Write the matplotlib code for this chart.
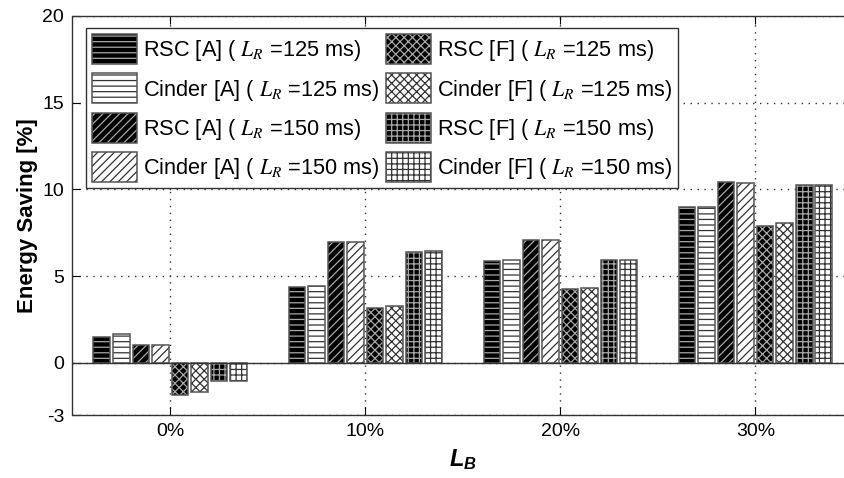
import matplotlib
matplotlib.use("Agg")
import matplotlib.pyplot as plt
import matplotlib.patches as mpatches
from matplotlib.font_manager import FontProperties
import numpy as np

plt.rcParams['font.family'] = ['Liberation Sans', 'DejaVu Sans']
plt.rcParams['mathtext.fontset'] = 'custom'
plt.rcParams['mathtext.it'] = 'Liberation Sans:bold:italic'
plt.rcParams['mathtext.rm'] = 'Liberation Sans:bold'
plt.rcParams['mathtext.bf'] = 'Liberation Sans:bold'
plt.rcParams['hatch.linewidth'] = 0.9
plt.rcParams['axes.unicode_minus'] = False

groups = ['0%', '10%', '20%', '30%']
series_labels = [
    'RSC [A] ( $L_R$ =125 ms)',
    'Cinder [A] ( $L_R$ =125 ms)',
    'RSC [A] ( $L_R$ =150 ms)',
    'Cinder [A] ( $L_R$ =150 ms)',
    'RSC [F] ( $L_R$ =125 ms)',
    'Cinder [F] ( $L_R$ =125 ms)',
    'RSC [F] ( $L_R$ =150 ms)',
    'Cinder [F] ( $L_R$ =150 ms)',
]
rsc_a_125 = [1.5, 4.35, 5.9, 9.0]
cinder_a_125 = [1.65, 4.45, 5.95, 9.0]
rsc_a_150 = [1.05, 6.95, 7.1, 10.42]
cinder_a_150 = [1.05, 6.95, 7.1, 10.4]
rsc_f_125 = [-1.85, 3.19, 4.25, 7.9]
cinder_f_125 = [-1.7, 3.3, 4.33, 8.08]
rsc_f_150 = [-1.05, 6.42, 5.95, 10.23]
cinder_f_150 = [-1.05, 6.47, 5.95, 10.23]
series_values = [rsc_a_125, cinder_a_125, rsc_a_150, cinder_a_150,
                 rsc_f_125, cinder_f_125, rsc_f_150, cinder_f_150]
yticks = [-3, 0, 5, 10, 15, 20]

faces = ['black', 'white'] * 4
hatch_colors = ['#a8a8a8', '#333333'] * 4
hatches = ['---', '---', '////', '////', 'xxxx', 'xxxx', '+++', '+++']
edge_color = '#555555'

W, H = 845, 478
fig = plt.figure(figsize=(W / 100, H / 100), dpi=100)
ax = fig.add_axes([72.5 / W, 1 - 415 / H, (853 - 72.5) / W, (415 - 16) / H])

x = np.arange(len(groups))
n = len(series_values)
bw = 0.085
legend_handles = []
for i, vals in enumerate(series_values):
    xs = x + (i - (n - 1) / 2) * 0.1
    ax.bar(xs, vals, bw, color=faces[i], edgecolor=hatch_colors[i],
           hatch=hatches[i], linewidth=0, zorder=2)
    ax.bar(xs, vals, bw, fill=False, edgecolor=edge_color, linewidth=1.1, zorder=3)
    legend_handles.append((
        mpatches.Patch(facecolor=faces[i], edgecolor=hatch_colors[i], hatch=hatches[i], linewidth=0),
        mpatches.Patch(fill=False, edgecolor=edge_color, linewidth=1.1),
    ))

ax.axhline(0, color='#333333', linewidth=1.0, zorder=4)
ax.set_xlim(-0.5, 3.5)
ax.set_ylim(-3, 20)
ax.set_xticks(x)
ax.set_xticklabels(groups)
ax.set_yticks(yticks)
ax.tick_params(direction='in', length=6, labelsize=14, top=True, right=True,
               colors='black', pad=6)
ax.grid(True, linestyle=(0, (1, 4)), color='#333333', linewidth=1.0, zorder=0)
ax.set_axisbelow(True)
for s in ax.spines.values():
    s.set_color('#333333')
    s.set_linewidth(1.0)

ax.set_ylabel('Energy Saving [%]', fontsize=16, fontweight='bold', labelpad=3)
ax.set_xlabel('$L_B$', fontsize=17, labelpad=5)

prop = FontProperties(family='Liberation Sans', size=15.7, math_fontfamily='stix')
leg = ax.legend(legend_handles, series_labels, ncol=2, prop=prop,
                loc='upper left', bbox_to_anchor=(86 / W, 1 - 28 / H),
                bbox_transform=fig.transFigure, borderaxespad=0,
                frameon=True, fancybox=False, edgecolor='#333333',
                framealpha=1, handlelength=2.06, handleheight=1.74,
                handletextpad=0.28, columnspacing=0.3, labelspacing=0.43,
                borderpad=0.28)
leg.get_frame().set_linewidth(1.0)
leg.set_zorder(10)

fig.savefig('out.png', dpi=100)
